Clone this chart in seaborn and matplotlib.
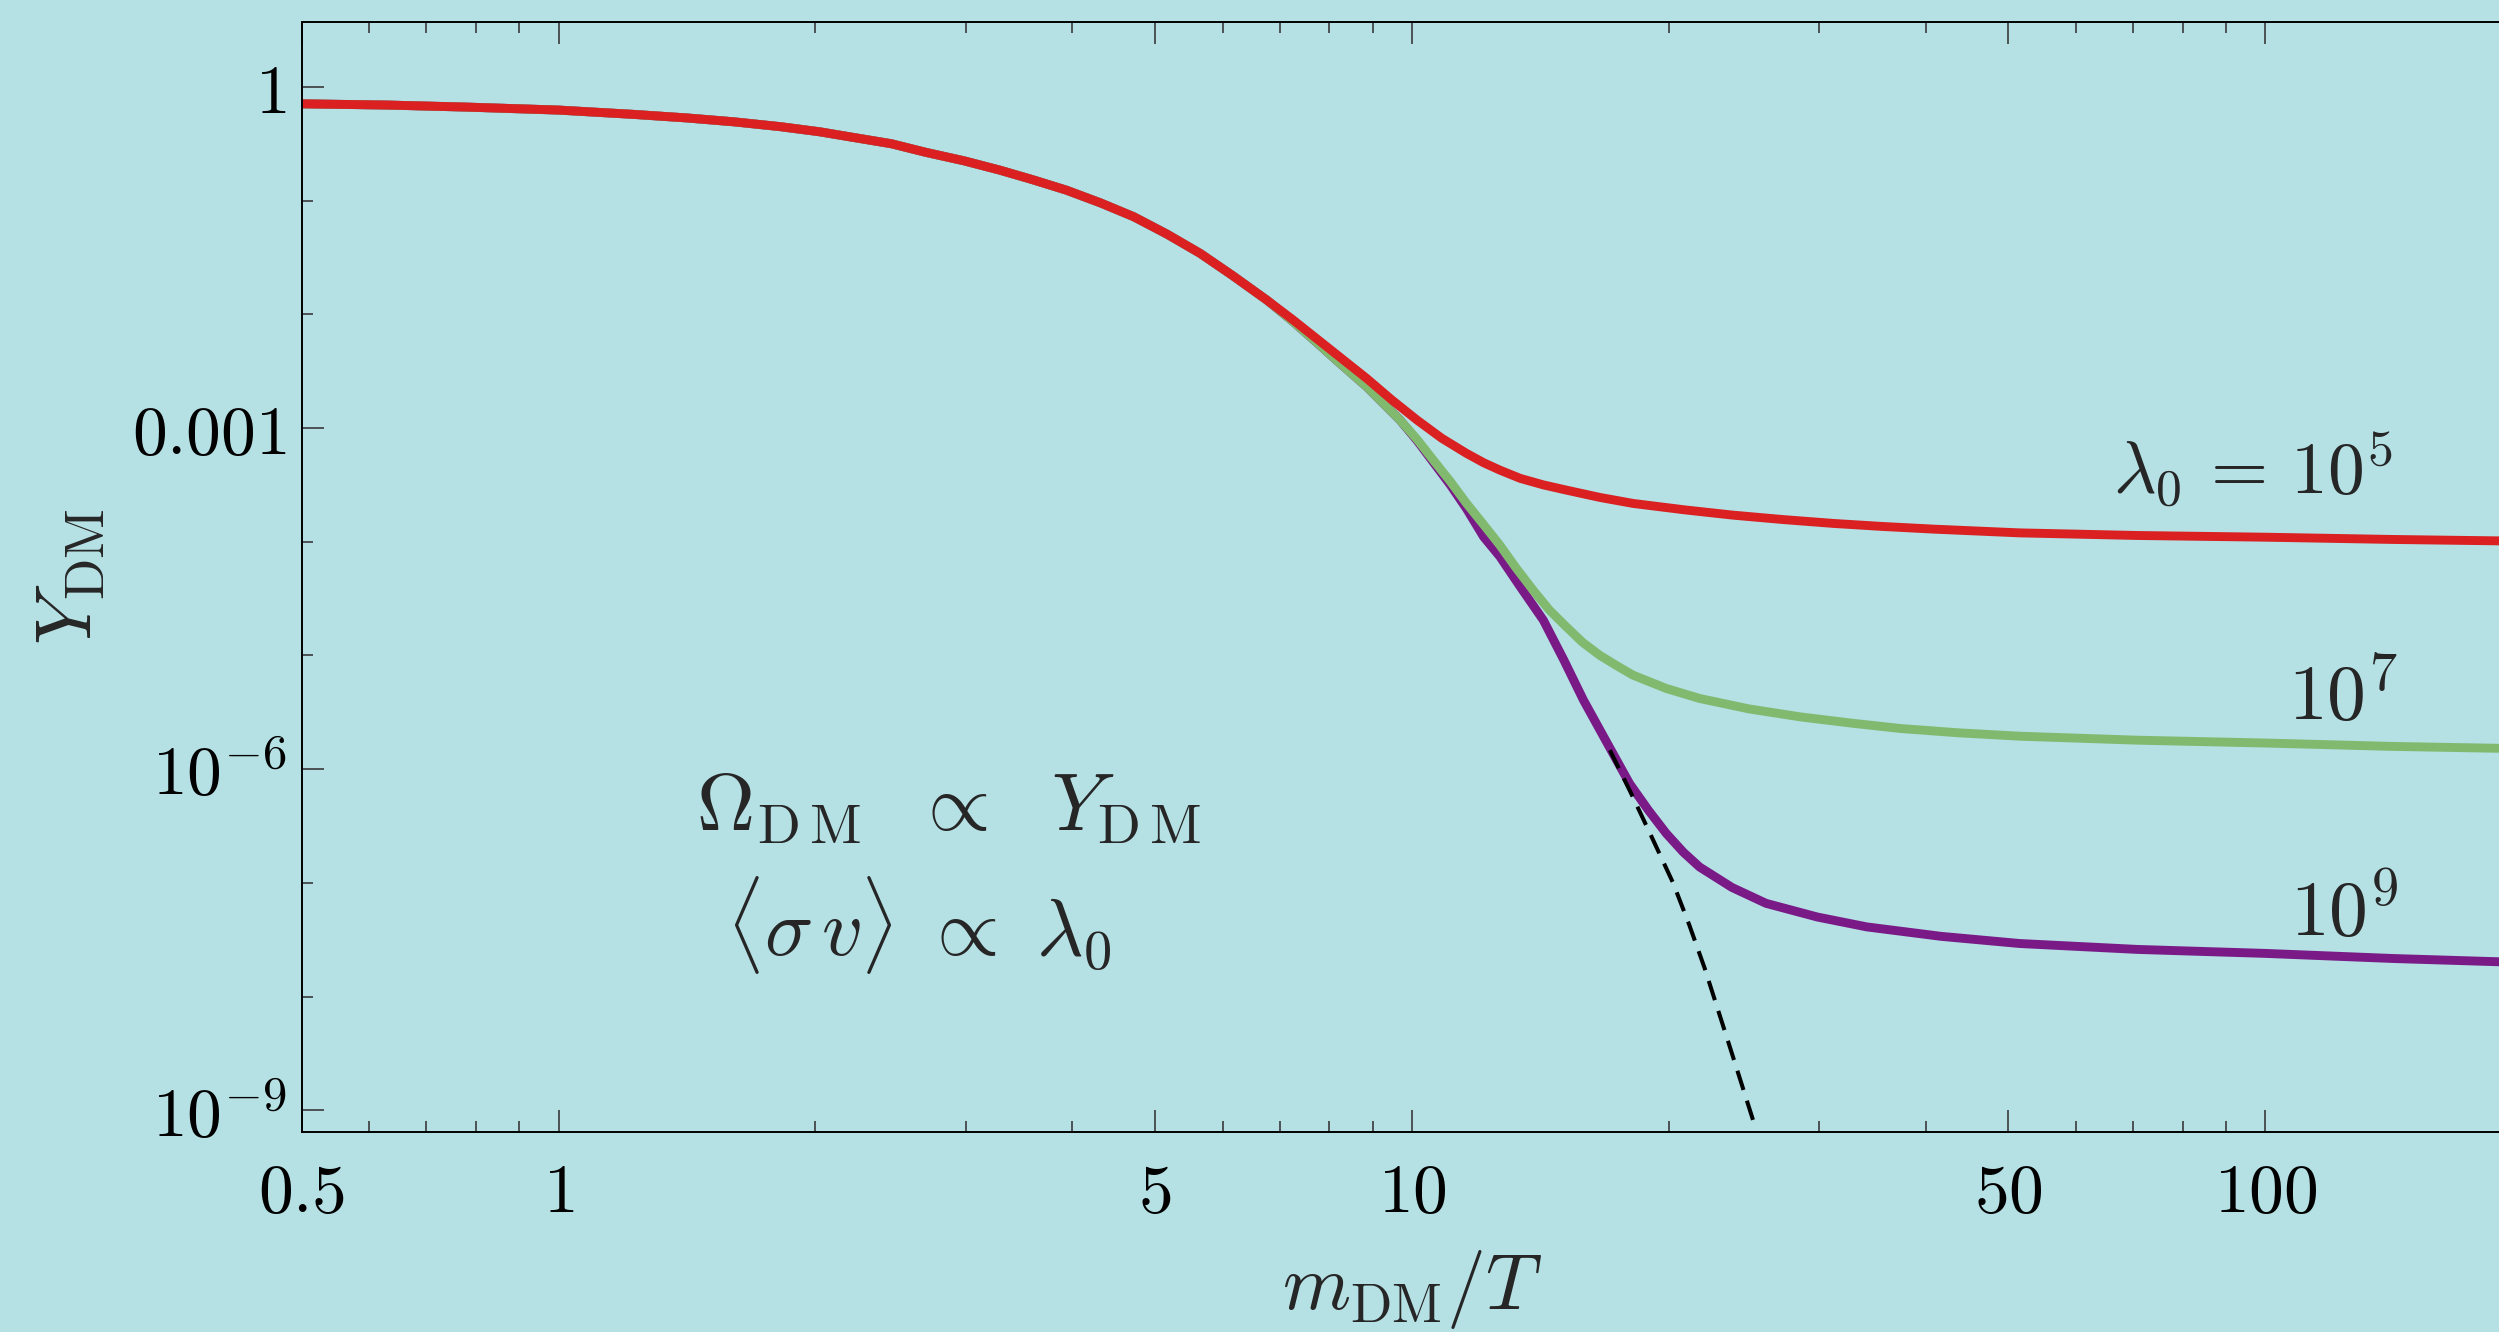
import matplotlib
matplotlib.use("Agg")
import matplotlib.pyplot as plt
import matplotlib.ticker as mticker
import seaborn as sns
import pandas as pd
import numpy as np

# --- data, as log10 values (x = m_DM/T, y = Y_DM) ---
# part common to all three curves
shared_logx = [-0.301, -0.2, -0.107, 0.0, 0.088, 0.15, 0.205, 0.26, 0.306, 0.345, 0.39,
               0.43, 0.475, 0.517, 0.555, 0.595, 0.635, 0.674, 0.713, 0.752, 0.79, 0.830]
shared_logy = [-0.149, -0.160, -0.178, -0.204, -0.242, -0.273, -0.307, -0.35, -0.395,
               -0.444, -0.50, -0.575, -0.65, -0.732, -0.815, -0.908, -1.02, -1.142,
               -1.295, -1.465, -1.66, -1.875]

# lambda_0 = 1e5 (red)
red_logx = [0.86, 0.888, 0.917, 0.947, 0.976, 1.006, 1.035, 1.064, 1.084, 1.103, 1.127,
            1.154, 1.181, 1.22, 1.259, 1.32, 1.376, 1.435, 1.494, 1.55, 1.611, 1.712,
            1.85, 2.0, 2.15, 2.301]
red_logy = [-2.045, -2.212, -2.385, -2.564, -2.75, -2.93, -3.09, -3.223, -3.305, -3.37,
            -3.443, -3.50, -3.546, -3.61, -3.663, -3.72, -3.766, -3.805, -3.839, -3.865,
            -3.889, -3.922, -3.945, -3.96, -3.98, -3.995]

# lambda_0 = 1e7 (green)
green_logx = [0.86, 0.888, 0.917, 0.947, 0.966, 0.986, 1.006, 1.025, 1.045, 1.064, 1.084,
              1.103, 1.122, 1.142, 1.161, 1.181, 1.200, 1.220, 1.24, 1.259, 1.298, 1.337,
              1.395, 1.455, 1.515, 1.572, 1.64, 1.712, 1.85, 2.0, 2.15, 2.301]
green_logy = [-2.06, -2.245, -2.44, -2.637, -2.78, -2.93, -3.10, -3.282, -3.47, -3.663,
              -3.85, -4.03, -4.23, -4.426, -4.60, -4.749, -4.885, -4.998, -5.09, -5.173,
              -5.29, -5.378, -5.47, -5.54, -5.595, -5.642, -5.68, -5.71, -5.745, -5.77,
              -5.80, -5.82]

# lambda_0 = 1e9 (purple)
purple_logx = [0.86, 0.888, 0.917, 0.947, 0.966, 0.986, 1.006, 1.025, 1.045, 1.064, 1.084,
               1.103, 1.127, 1.154, 1.178, 1.201, 1.228, 1.255, 1.277, 1.298, 1.318, 1.337,
               1.375, 1.415, 1.475, 1.533, 1.62, 1.712, 1.85, 2.0, 2.15, 2.301]
purple_logy = [-2.06, -2.245, -2.44, -2.637, -2.78, -2.93, -3.11, -3.30, -3.50, -3.71,
               -3.957, -4.13, -4.397, -4.69, -5.04, -5.393, -5.76, -6.126, -6.36, -6.565,
               -6.73, -6.86, -7.04, -7.18, -7.30, -7.387, -7.47, -7.533, -7.585, -7.62,
               -7.665, -7.70]

# equilibrium tail (dashed)
eq_logx = [1.232, 1.256, 1.279, 1.306, 1.325, 1.343, 1.372, 1.402]
eq_logy = [-5.833, -6.20, -6.565, -7.0, -7.37, -7.75, -8.43, -9.14]

curve_names = ["1e9", "1e7", "1e5"]          # drawing order: red ends on top
curve_colors = {"1e5": "#da2021", "1e7": "#81ba6f", "1e9": "#791a86"}

x_major = [0.5, 1, 5, 10, 50, 100]
x_major_labels = ["$0.5$", "$1$", "$5$", "$10$", "$50$", "$100$"]
x_minor = [0.6, 0.7, 0.8, 0.9, 2, 3, 4, 6, 7, 8, 9, 20, 30, 40, 60, 70, 80, 90, 200]
y_major = [1, 1e-3, 1e-6, 1e-9]
y_major_labels = ["$1$", "$0.001$", "$10^{-6}$", "$10^{-9}$"]
y_minor = [1e-1, 1e-2, 1e-4, 1e-5, 1e-7, 1e-8]

bg = "#b5e0e4"

sns.set_theme(style="ticks")
plt.rcParams.update({
    "mathtext.fontset": "cm",
    "font.family": ["DejaVu Serif"],
    "axes.facecolor": bg,
    "figure.facecolor": bg,
    "savefig.facecolor": bg,
})

rows = []
for name, lx, ly in [("1e5", red_logx, red_logy), ("1e7", green_logx, green_logy),
                     ("1e9", purple_logx, purple_logy)]:
    for a, b in zip(shared_logx + lx, shared_logy + ly):
        rows.append({"x": 10 ** a, "Y": 10 ** b, "curve": name})
df = pd.DataFrame(rows)
df_eq = pd.DataFrame({"x": 10 ** np.array(eq_logx), "Y": 10 ** np.array(eq_logy)})

fig = plt.figure(figsize=(12.495, 6.66), dpi=200)
ax = fig.add_axes([0.1207, 0.1502, 0.8886, 0.8335])

sns.lineplot(data=df, x="x", y="Y", hue="curve", hue_order=curve_names,
             palette=curve_colors, sort=False, estimator=None, linewidth=3.2,
             legend=False, ax=ax)
sns.lineplot(data=df_eq, x="x", y="Y", color="black", linewidth=1.45,
             sort=False, estimator=None, ax=ax)
ax.lines[-1].set_dashes([5, 2.8])

ax.set_xscale("log")
ax.set_yscale("log")
ax.set_xlim(0.5, 200)
ax.set_ylim(10 ** -9.19, 10 ** 0.573)

ax.xaxis.set_major_locator(mticker.FixedLocator(x_major))
ax.xaxis.set_major_formatter(mticker.FixedFormatter(x_major_labels))
ax.xaxis.set_minor_locator(mticker.FixedLocator(x_minor))
ax.xaxis.set_minor_formatter(mticker.NullFormatter())
ax.yaxis.set_major_locator(mticker.FixedLocator(y_major))
ax.yaxis.set_major_formatter(mticker.FixedFormatter(y_major_labels))
ax.yaxis.set_minor_locator(mticker.FixedLocator(y_minor))
ax.yaxis.set_minor_formatter(mticker.NullFormatter())

ax.tick_params(which="both", direction="in", top=True, right=False,
               color="#3a3a3a", width=0.6, labelsize=25, labelcolor="black")
ax.tick_params(which="major", length=7.9)
ax.tick_params(which="minor", length=4.0)
ax.tick_params(axis="x", which="major", pad=10)
ax.tick_params(axis="y", which="major", pad=5.5)

for s in ax.spines.values():
    s.set_linewidth(0.7)
    s.set_color("black")
ax.spines["right"].set_visible(False)

ax.set_xlabel(r"$m_{\mathrm{DM}}/T$", fontsize=28, labelpad=8)
ax.set_ylabel(r"$Y_{\mathrm{DM}}$", fontsize=28, labelpad=8.5)
ax.grid(False)

# curve labels
ax.text(141, 10 ** -3.58, r"$\lambda_0\,=\,10^5$", fontsize=26.5, ha="right", va="baseline")
ax.text(143, 10 ** -5.566, r"$10^7$", fontsize=28, ha="right", va="baseline")
ax.text(143, 10 ** -7.467, r"$10^9$", fontsize=28, ha="right", va="baseline")

# relations
ax.text(1.45, 10 ** -6.54,
        r"$\Omega_{\mathrm{D\,M}}\ \ \propto\ \ Y_{\mathrm{D\,M}}$",
        fontsize=29, ha="left", va="baseline")
ax.text(1.57, 10 ** -7.64, r"$\langle\sigma\, v\rangle\ \propto\ \lambda_0$",
        fontsize=29, ha="left", va="baseline")

fig.savefig("out.png", dpi=200)
